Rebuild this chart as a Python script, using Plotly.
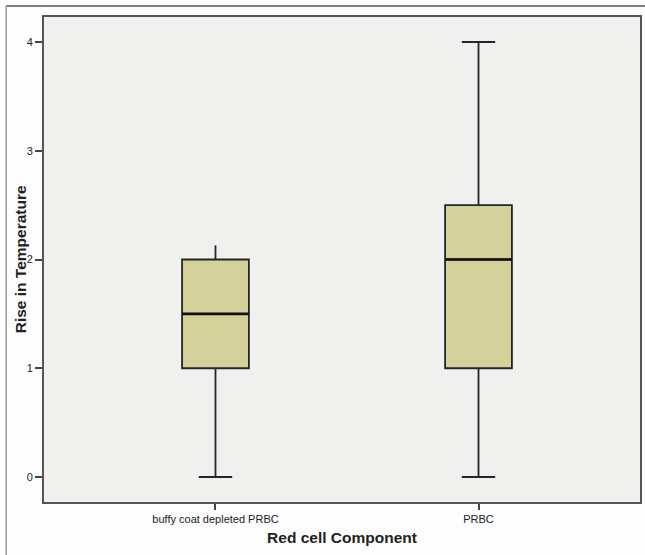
import plotly.graph_objects as go

categories = ["buffy coat depleted PRBC", "PRBC"]
q1 = [1.0, 1.0]
median = [1.5, 2.0]
q3 = [2.0, 2.5]
lower_whisker = [0.0, 0.0]
upper_whisker = [2.0, 4.0]
# short whisker stub drawn above the first box in the reference
stub_category = ["buffy coat depleted PRBC"]
stub_top = [2.13]

y_ticks = [0, 1, 2, 3, 4]

fig = go.Figure()
fig.add_trace(go.Box(
    x=categories, q1=q1, median=median, q3=q3,
    lowerfence=lower_whisker, upperfence=upper_whisker,
    fillcolor="#d4d19a", line=dict(color="#262626", width=1.8),
    whiskerwidth=0.5, width=0.254, boxpoints=False, hoverinfo="skip",
    showlegend=False,
))
# thicker median line overlay
fig.add_trace(go.Box(
    x=categories, q1=median, median=median, q3=median,
    lowerfence=median, upperfence=median,
    fillcolor="rgba(0,0,0,0)", line=dict(color="#111111", width=2.6),
    whiskerwidth=0, width=0.254, boxpoints=False, hoverinfo="skip",
    showlegend=False,
))
fig.add_trace(go.Scatter(
    x=stub_category * 2, y=[q3[0], stub_top[0]], mode="lines",
    line=dict(color="#262626", width=1.8), showlegend=False, hoverinfo="skip",
))

fig.update_layout(
    width=645, height=555,
    margin=dict(l=44, r=3, t=17, b=53),
    paper_bgcolor="#fdfdfd", plot_bgcolor="#f0f0ef",
    boxmode="overlay",
    font=dict(family="Liberation Sans, Arial, sans-serif", color="#222222", size=11),
    xaxis=dict(
        type="category", range=[-0.652, 1.614],
        showline=True, mirror=True, linecolor="#555555", linewidth=2,
        ticks="outside", ticklen=6, tickcolor="#444444", tickwidth=1.5,
        showgrid=False, zeroline=False, tickfont=dict(size=11),
        title=dict(text="<b>Red cell Component</b>", font=dict(size=15.5), standoff=8),
    ),
    yaxis=dict(
        range=[-0.23, 4.23], tickvals=y_ticks,
        showline=True, mirror=True, linecolor="#555555", linewidth=2,
        ticks="outside", ticklen=7, tickcolor="#444444", tickwidth=1.5,
        showgrid=False, zeroline=False, tickfont=dict(size=11),
    ),
    annotations=[
        dict(text="<b>Rise in Temperature</b>", xref="paper", yref="paper",
             x=-0.039, y=0.5, textangle=-90, showarrow=False,
             xanchor="center", yanchor="middle", font=dict(size=15.5)),
    ],
    shapes=[
        dict(type="line", xref="paper", yref="paper", x0=-0.0635, x1=1.01,
             y0=1.0227, y1=1.0227, line=dict(color="#555555", width=1.5)),
        dict(type="line", xref="paper", yref="paper", x0=-0.0635, x1=-0.0635,
             y0=1.0227, y1=-0.2, line=dict(color="#999999", width=1.5)),
    ],
)

fig.write_html("out.html", config={"displayModeBar": False},
               post_script="document.body.style.margin='0';document.body.style.overflow='hidden';")
